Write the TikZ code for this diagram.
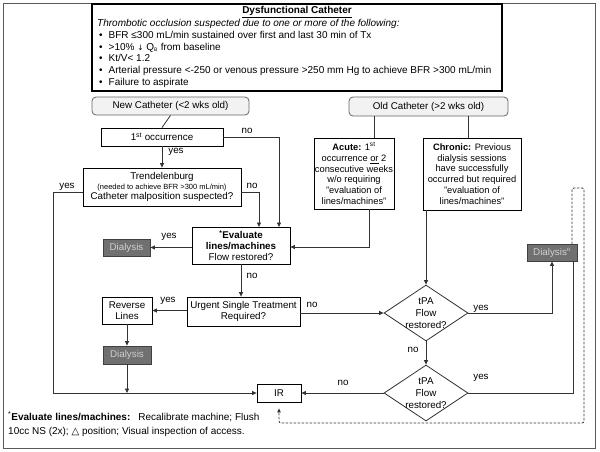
\documentclass[tikz,border=0pt]{standalone}
\usepackage{fontspec}
\setmainfont{Liberation Sans}
\newfontfamily\dv{DejaVu Sans}
\usetikzlibrary{arrows.meta,shapes.geometric}
\definecolor{lin}{HTML}{333333}
\definecolor{dfill}{HTML}{707070}
\definecolor{dtext}{HTML}{D0D0D0}
\definecolor{lfill}{HTML}{F2F2F2}
\begin{document}
\begin{tikzpicture}[x=1pt,y=-1pt,
  every node/.style={font=\fontsize{9.8}{11.5}\selectfont, inner sep=0pt},
  box/.style={draw=black, line width=0.8pt, fill=white, align=center},
  rbox/.style={draw=black!60, fill=lfill, rounded corners=4pt, line width=0.8pt},
  dial/.style={draw=black!75, fill=dfill, text=dtext, line width=0.8pt},
  dia/.style={diamond, draw=black!80, line width=0.8pt},
  conn/.style={draw=lin, line width=0.8pt},
  arr/.style={conn, -{Triangle[length=4.5pt,width=4pt]}},
  lbl/.style={font=\fontsize{9.8}{11}\selectfont},
  ln/.style={anchor=west, text height=7pt, text depth=2pt, font=\fontsize{10}{11.5}\selectfont}
]
\useasboundingbox (0,0) rectangle (600,451);
% outer frame
\draw[draw=black!65, line width=0.8pt] (3,3) rectangle (595,448);
% top box
\node[draw=black, line width=1.1pt, fill=white, minimum width=410pt, minimum height=87pt] (top) at (297,47.5) {};
\node[font=\fontsize{10}{11}\selectfont\bfseries] (title) at (297,12) {\underline{Dysfunctional Catheter}};
\node[ln, font=\fontsize{10}{11}\selectfont\itshape] (it) at (97,24) {Thrombotic occlusion suspected due to one or more of the following:};
\node[ln] (b1) at (99,35.5) {•\hspace{6pt}BFR ≤300 mL/min sustained over first and last 30 min of Tx};
\node[ln] (b2) at (99,47.5) {•\hspace{6pt}>10\% {\dv\fontsize{7.5}{9}\selectfont ↓} Q\textsubscript{\fontsize{5}{6}\selectfont B} from baseline};
\node[ln] (b3) at (99,59) {•\hspace{6pt}Kt/V< 1.2};
\node[ln] (b4) at (99,71) {•\hspace{6pt}Arterial pressure <-250 or venous pressure >250 mm Hg to achieve BFR >300 mL/min};
\node[ln] (b5) at (99,82.5) {•\hspace{6pt}Failure to aspirate};

% nodes
\node[rbox, minimum width=157pt, minimum height=18pt] (new) at (170.5,106) {New Catheter (<2 wks old)};
\node[rbox, minimum width=159pt, minimum height=19pt] (old) at (428.5,106.5) {Old Catheter (>2 wks old)};
\node[box, minimum width=122pt, minimum height=18pt] (first) at (162,137) {1\textsuperscript{st} occurrence};
\node[box, minimum width=158pt, minimum height=38pt, align=center] (trend) at (162,187)
  {Trendelenburg\\[-1.5pt]{\fontsize{7.5}{9}\selectfont (needed to achieve BFR >300 mL/min)}\\[-1pt]Catheter malposition suspected?};
\node[box, minimum width=80pt, minimum height=71pt, font=\fontsize{9.3}{10.7}\selectfont] (acute) at (354,173.5)
  {\textbf{Acute:} 1\textsuperscript{st}\\occurrence \underline{or} 2\\consecutive weeks\\w/o requiring\\"evaluation of\\lines/machines"};
\node[box, minimum width=98pt, minimum height=72pt, font=\fontsize{9.3}{10.7}\selectfont] (chronic) at (472,174)
  {\textbf{Chronic:} Previous\\dialysis sessions\\have successfully\\occurred but required\\"evaluation of\\lines/machines"};
\node[box, minimum width=98pt, minimum height=37pt, font=\fontsize{9.8}{11}\selectfont] (eval) at (241,245.5)
  {\textbf{\textsuperscript{*}Evaluate}\\\textbf{lines/machines}\\Flow restored?};
\node[dial, minimum width=47pt, minimum height=17pt] (diall1) at (126.5,247.5) {Dialysis};
\node[dial, minimum width=50pt, minimum height=17pt] (dialr) at (552,252.5) {Dialysis\textsuperscript{\fontsize{6}{6}\selectfont o}};
\node[box, minimum width=50pt, minimum height=27pt] (rev) at (127,310.5) {Reverse\\Lines};
\node[box, minimum width=113pt, minimum height=29pt] (urg) at (243.5,311.5) {Urgent Single Treatment\\Required?};
\node[dial, minimum width=48pt, minimum height=18pt] (diall2) at (127,355) {Dialysis};
\node[dia, minimum width=84pt, minimum height=56pt,
  label={[align=center, font=\fontsize{9.8}{12}\selectfont]center:tPA\\Flow\\restored?}] (d1) at (426,313) {};
\node[dia, minimum width=84pt, minimum height=56pt,
  label={[align=center, font=\fontsize{9.8}{12}\selectfont]center:tPA\\Flow\\restored?}] (d2) at (426,393) {};
\node[box, minimum width=44pt, minimum height=18pt] (ir) at (279,393) {IR};

% footnote
\node[ln] (fn1) at (8,418) {\textsuperscript{*}\textbf{Evaluate lines/machines:}\hspace{8pt}Recalibrate machine; Flush};
\node[ln] (fn2) at (8,432) {10cc NS (2x); {\dv △} position; Visual inspection of access.};

% helper coordinates
\coordinate (oa) at (374,138);
\coordinate (oc) at (468,138);
\coordinate (ab) at (369,209);
\coordinate (tn) at (259,227);
\coordinate (fnx) at (279,227);
\coordinate (ty) at (53,192);
\coordinate (d2y) at (573,261);
\coordinate (dst) at (572,244);
\coordinate (dtop) at (584,188);
\coordinate (dbot) at (584,423);

% connectors
\draw[conn] (new.south) -- (first.north);
\draw[arr] (first.south) -- (trend.north);
\draw[arr] (first.east) -| (fnx);
\draw[arr] ([yshift=-5pt]trend.east) -| (tn);
\draw[arr] ([yshift=-5pt]trend.west) -| (ty) |- (ir.west);
\draw[conn] (old.south -| oa) -- (oa);
\draw[conn] (old.south -| oc) -- (oc);
\draw[arr] (ab) |- ([yshift=-1.5pt]eval.east);
\draw[arr] (chronic.south -| d1.north) -- (d1.north);
\draw[arr] (eval.west |- diall1.east) -- (diall1.east);
\draw[arr] (eval.south) -- (eval.south |- urg.north);
\draw[arr] (urg.west |- rev.east) -- (rev.east);
\draw[arr] (urg.east |- d1.west) -- (d1.west);
\draw[arr] (rev.south) -- (diall2.north);
\draw[arr] (diall2.south) -- (diall2.south |- ir.west);
\draw[arr] (d1.east) -| (dialr.south);
\draw[arr] (d1.south) -- (d2.north);
\draw[conn] (d2.east) -| (d2y);
\draw[arr] (d2.west) -- (ir.east);
\draw[conn, dashed, dash pattern=on 2.5pt off 1.5pt, rounded corners=2pt, -{Triangle[length=4pt,width=3.5pt]}, shorten >=6pt]
  (dst) |- (dtop) -- (dbot) -| (ir.south);

% labels
\node[lbl] (l1) at (176,152) {yes};
\node[lbl] (l2) at (247,131) {no};
\node[lbl] (l3) at (252,186) {no};
\node[lbl] (l4) at (67,187) {yes};
\node[lbl] (l5) at (169,237) {yes};
\node[lbl] (l6) at (252,276) {no};
\node[lbl] (l7) at (168,301) {yes};
\node[lbl] (l8) at (312,305) {no};
\node[lbl] (l9) at (481,309) {yes};
\node[lbl] (l10) at (413,350) {no};
\node[lbl] (l11) at (481,378) {yes};
\node[lbl] (l12) at (343,383) {no};
\end{tikzpicture}
\end{document}
